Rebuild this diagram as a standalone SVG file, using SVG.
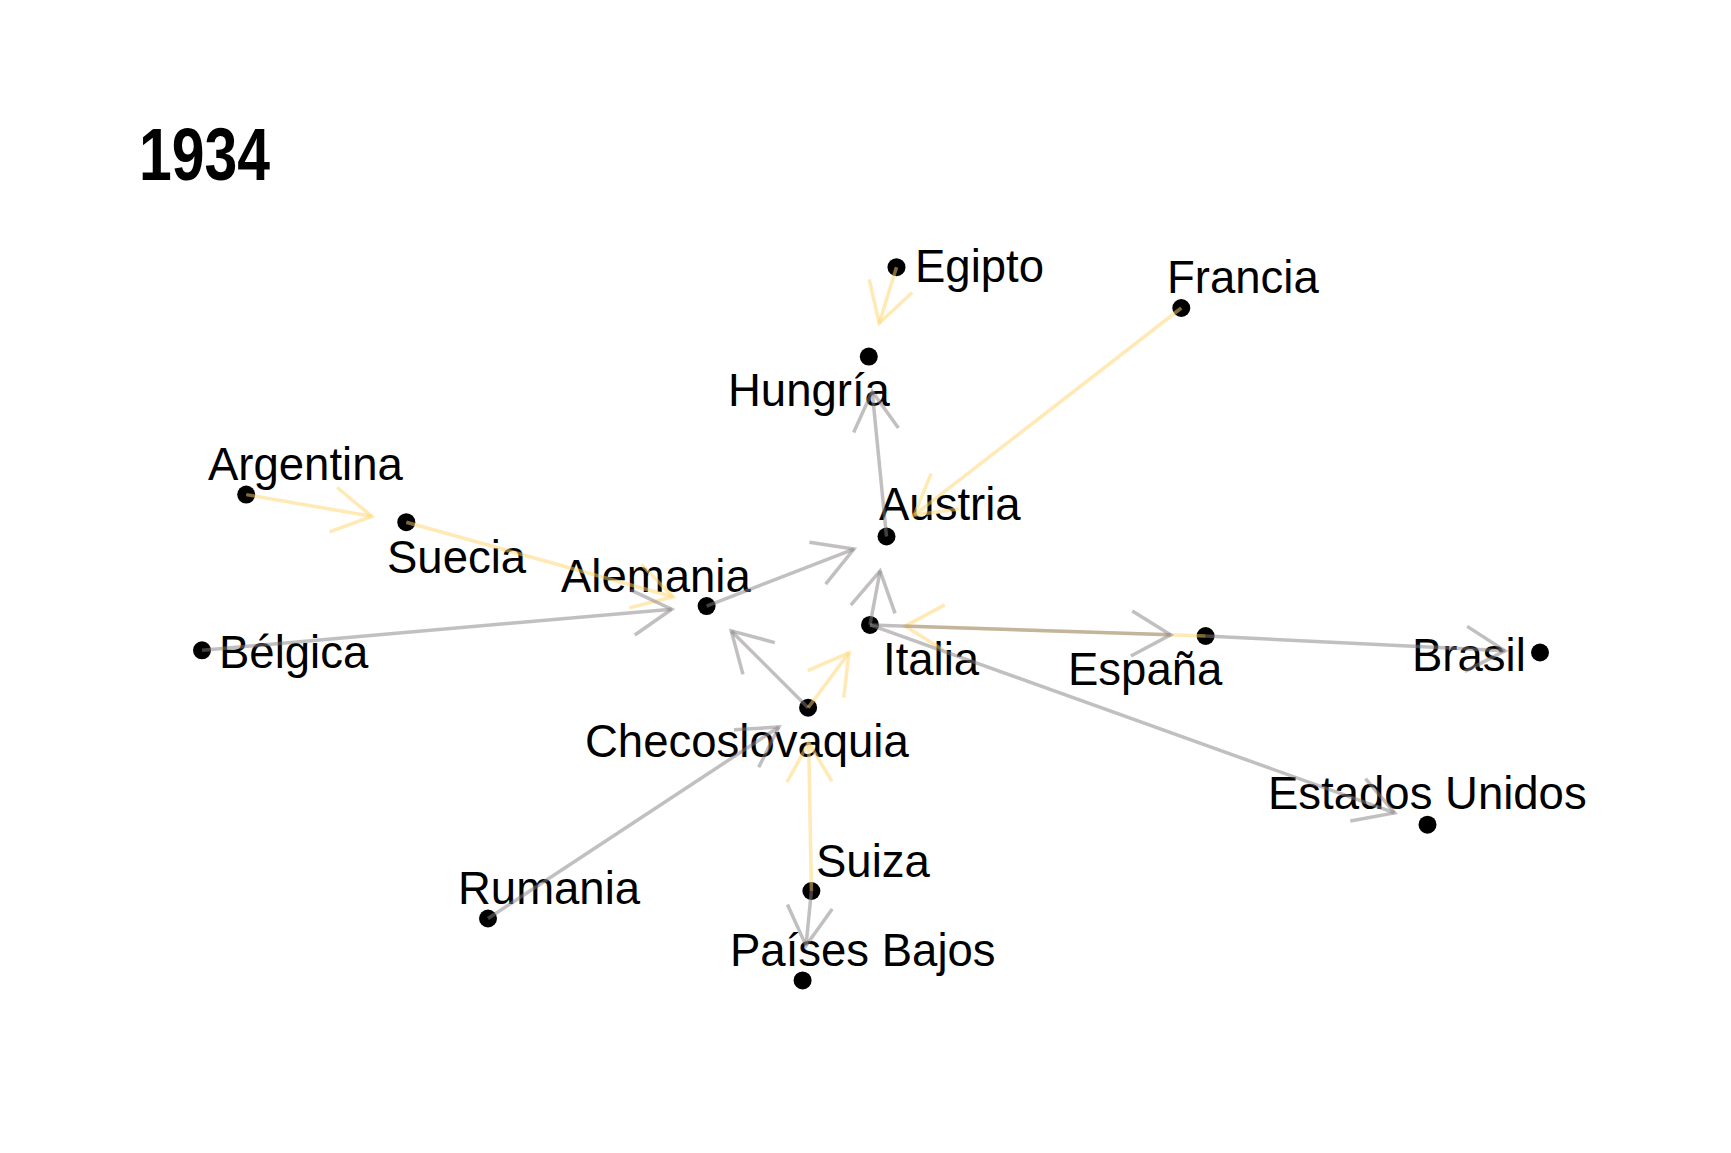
<svg xmlns="http://www.w3.org/2000/svg" width="1731" height="1153" viewBox="0 0 1731 1153">
<style>
.lbl{font-family:"Liberation Sans",Arial,sans-serif;font-size:45.5px;fill:#000}
.title{font-family:"Liberation Sans",Arial,sans-serif;font-size:75px;font-weight:bold;fill:#000}
.dot{fill:#000}
.eg{fill:none;stroke:#868083;stroke-opacity:0.5;stroke-width:3.5;marker-end:url(#ag)}
.ey{fill:none;stroke:#ffd56b;stroke-opacity:0.5;stroke-width:3.5;marker-end:url(#ay)}
</style>
<defs>
<marker id="ag" markerUnits="userSpaceOnUse" orient="auto" refX="0" refY="0" markerWidth="100" markerHeight="100" viewBox="-50 -50 100 100" overflow="visible">
<path d="M-39,-22.5 L0,0 L-39,22.5" fill="none" stroke="#868083" stroke-opacity="0.5" stroke-width="3.5"/>
</marker>
<marker id="ay" markerUnits="userSpaceOnUse" orient="auto" refX="0" refY="0" markerWidth="100" markerHeight="100" viewBox="-50 -50 100 100" overflow="visible">
<path d="M-39,-22.5 L0,0 L-39,22.5" fill="none" stroke="#ffd56b" stroke-opacity="0.5" stroke-width="3.5"/>
</marker>
</defs>
<rect width="1731" height="1153" fill="#fff"/>
<text class="title" x="139" y="180" textLength="131" lengthAdjust="spacingAndGlyphs">1934</text>
<g id="nodes">
<g id="n-egipto"><circle class="dot" cx="896.5" cy="267.2" r="9"/><text class="lbl" x="915" y="282">Egipto</text></g>
<g id="n-francia"><circle class="dot" cx="1181.3" cy="308" r="9"/><text class="lbl" x="1167" y="293">Francia</text></g>
<g id="n-hungria"><circle class="dot" cx="868.8" cy="356.6" r="9"/><text class="lbl" x="728" y="406">Hungría</text></g>
<g id="n-argentina"><circle class="dot" cx="246.2" cy="494.6" r="9"/><text class="lbl" x="208" y="480">Argentina</text></g>
<g id="n-suecia"><circle class="dot" cx="406.3" cy="522.2" r="9"/><text class="lbl" x="387" y="573">Suecia</text></g>
<g id="n-austria"><circle class="dot" cx="886.5" cy="536.5" r="9"/><text class="lbl" x="879" y="520">Austria</text></g>
<g id="n-alemania"><circle class="dot" cx="706.6" cy="606.1" r="9"/><text class="lbl" x="561" y="592">Alemania</text></g>
<g id="n-belgica"><circle class="dot" cx="202" cy="650.3" r="9"/><text class="lbl" x="219" y="668">Bélgica</text></g>
<g id="n-italia"><circle class="dot" cx="870" cy="624.9" r="9"/><text class="lbl" x="883" y="675">Italia</text></g>
<g id="n-espana"><circle class="dot" cx="1205.6" cy="636" r="9"/><text class="lbl" x="1068" y="685">España</text></g>
<g id="n-brasil"><circle class="dot" cx="1540" cy="652.5" r="9"/><text class="lbl" x="1412" y="671">Brasil</text></g>
<g id="n-checoslovaquia"><circle class="dot" cx="808.1" cy="707.7" r="9"/><text class="lbl" x="585" y="757">Checoslovaquia</text></g>
<g id="n-estadosunidos"><circle class="dot" cx="1427.5" cy="824.7" r="9"/><text class="lbl" x="1268" y="809">Estados Unidos</text></g>
<g id="n-rumania"><circle class="dot" cx="488" cy="918.5" r="9"/><text class="lbl" x="458" y="904">Rumania</text></g>
<g id="n-suiza"><circle class="dot" cx="811.4" cy="891" r="9"/><text class="lbl" x="816" y="877">Suiza</text></g>
<g id="n-paisesbajos"><circle class="dot" cx="802.6" cy="980.4" r="9"/><text class="lbl" x="730" y="966">Países Bajos</text></g>
</g>
<g id="connectors">
<line class="ey" x1="896.5" y1="267.2" x2="879.2" y2="323.2"/>
<line class="ey" x1="1181.3" y1="308" x2="914.2" y2="515.1"/>
<line class="eg" x1="886.5" y1="536.5" x2="872.2" y2="391.4"/>
<line class="ey" x1="246.2" y1="494.6" x2="371.8" y2="516.3"/>
<line class="ey" x1="406.3" y1="522.2" x2="672.9" y2="596.7"/>
<line class="eg" x1="202" y1="650.3" x2="671.7" y2="609.2"/>
<line class="eg" x1="706.6" y1="606.1" x2="853.9" y2="549.1"/>
<line class="eg" x1="870" y1="624.9" x2="880.1" y2="570.9"/>
<line class="eg" x1="808.1" y1="707.7" x2="731.3" y2="630.9"/>
<line class="ey" x1="808.1" y1="707.7" x2="849.0" y2="652.9"/>
<line class="ey" x1="1205.6" y1="636" x2="905.0" y2="626.1"/>
<line class="eg" x1="870" y1="624.9" x2="1170.6" y2="634.8"/>
<line class="eg" x1="1205.6" y1="636" x2="1505.0" y2="650.8"/>
<line class="eg" x1="870" y1="624.9" x2="1394.6" y2="812.9"/>
<line class="eg" x1="488" y1="918.5" x2="778.9" y2="727.0"/>
<line class="ey" x1="811.4" y1="891" x2="808.7" y2="742.7"/>
<line class="eg" x1="811.4" y1="891" x2="806.0" y2="945.6"/>
</g>
</svg>
